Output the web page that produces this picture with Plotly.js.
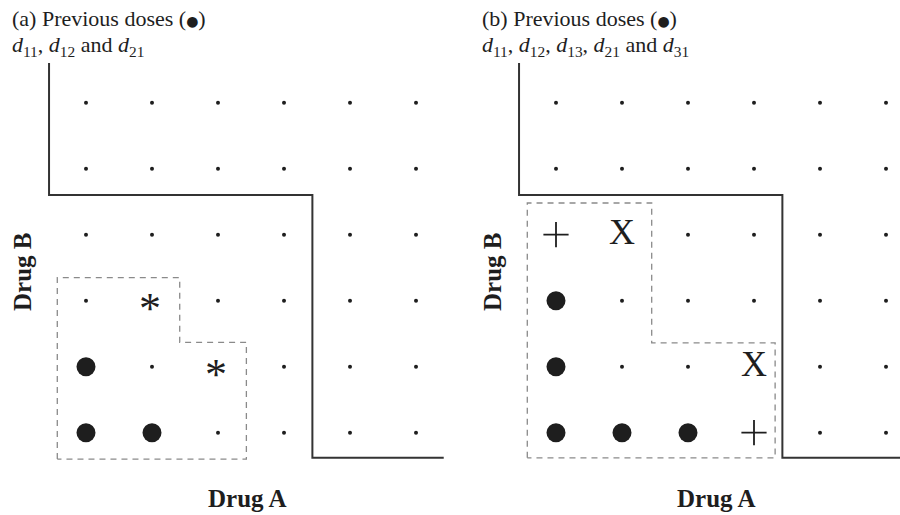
<!DOCTYPE html>
<html>
<head>
<meta charset="utf-8">
<script src="https://cdn.plot.ly/plotly-3.0.1.min.js"></script>
<style>html,body{margin:0;padding:0;background:#fff;}#chart{width:900px;height:515px;}</style>
</head>
<body>
<div id="chart"></div>
<script>
// ---- data ----
const doseLevelsA = [1, 2, 3, 4, 5, 6];   // Drug A dose levels (x)
const doseLevelsB = [1, 2, 3, 4, 5, 6];   // Drug B dose levels (y)

// Panel (a)
const prevA_x = [1, 2, 1];
const prevA_y = [1, 1, 2];
const starA_x = [2, 3];
const starA_y = [3, 2];
const solidA_x = [0.44, 0.44, 4.43, 4.43, 6.42];
const solidA_y = [6.6, 4.6, 4.6, 0.62, 0.62];
const dashA_x = [0.565, 0.565, 2.42, 2.42, 3.43, 3.43, 0.565];
const dashA_y = [0.6, 3.35, 3.35, 2.37, 2.37, 0.6, 0.6];

// Panel (b)
const prevB_x = [1, 1, 1, 2, 3];
const prevB_y = [1, 2, 3, 1, 1];
const plusB_x = [1, 4];
const plusB_y = [4, 1];
const xB_x = [2, 4];
const xB_y = [4, 2];
const solidB_x = [0.44, 0.44, 4.43, 4.43, 6.3];
const solidB_y = [6.6, 4.6, 4.6, 0.62, 0.62];
const dashB_x = [0.565, 0.565, 2.45, 2.45, 4.32, 4.32, 0.565];
const dashB_y = [0.62, 4.48, 4.48, 2.36, 2.36, 0.62, 0.62];

const BUL = '<span style="font-family:DejaVu Sans;font-size:14px">\u25CF</span>';
const titleA1 = '(a) Previous doses (' + BUL + ')';
const titleA2 = '<i>d</i><sub>11</sub>, <i>d</i><sub>12</sub> and <i>d</i><sub>21</sub>';
const titleB1 = '(b) Previous doses (' + BUL + ')';
const titleB2 = '<i>d</i><sub>11</sub>, <i>d</i><sub>12</sub>, <i>d</i><sub>13</sub>, <i>d</i><sub>21</sub> and <i>d</i><sub>31</sub>';
const xLabel = 'Drug A';
const yLabel = 'Drug B';

// ---- helpers ----
function smallDots(exX, exY) {
  const xs = [], ys = [];
  doseLevelsB.forEach(b => doseLevelsA.forEach(a => {
    let taken = false;
    for (let i = 0; i < exX.length; i++) if (exX[i] === a && exY[i] === b) taken = true;
    if (!taken) { xs.push(a); ys.push(b); }
  }));
  return [xs, ys];
}

const SERIF = '"Liberation Serif", "Times New Roman", serif';
const ink = '#1e1e1e';

function panelTraces(ax, ay, excl, solidX, solidY, dashX, dashY, prevX, prevY) {
  const [sx, sy] = smallDots(excl[0], excl[1]);
  return [
    {x: solidX, y: solidY, xaxis: ax, yaxis: ay, mode: 'lines', line: {color: '#333', width: 2}, hoverinfo: 'skip'},
    {x: dashX, y: dashY, xaxis: ax, yaxis: ay, mode: 'lines', line: {color: '#8a8a8a', width: 1.3, dash: '6px,5px'}, hoverinfo: 'skip'},
    {x: sx, y: sy, xaxis: ax, yaxis: ay, mode: 'markers', marker: {size: 4, color: ink}},
    {x: prevX, y: prevY, xaxis: ax, yaxis: ay, mode: 'markers', marker: {size: 19, color: ink}}
  ];
}

const exclA = [prevA_x.concat(starA_x), prevA_y.concat(starA_y)];
const exclB = [prevB_x.concat(plusB_x, xB_x), prevB_y.concat(plusB_y, xB_y)];

const data = []
  .concat(panelTraces('x', 'y', exclA, solidA_x, solidA_y, dashA_x, dashA_y, prevA_x, prevA_y))
  .concat(panelTraces('x2', 'y2', exclB, solidB_x, solidB_y, dashB_x, dashB_y, prevB_x, prevB_y))
  .concat([
    {x: plusB_x, y: plusB_y, xaxis: 'x2', yaxis: 'y2', mode: 'markers',
     marker: {symbol: 'cross-thin-open', size: 18, line: {width: 1.8, color: ink}, color: ink}},
    {x: xB_x, y: xB_y, xaxis: 'x2', yaxis: 'y2', mode: 'text', text: xB_x.map(() => 'X'),
     textposition: 'middle center', textfont: {family: SERIF, size: 36, color: ink}}
  ]);

function ann(text, px, py, opts) {
  return Object.assign({text: text, x: px / 900, y: 1 - py / 515, xref: 'paper', yref: 'paper',
    showarrow: false, xanchor: 'left', yanchor: 'middle', font: {family: SERIF, size: 22, color: ink}}, opts || {});
}

// asterisk candidates, placed in data coordinates of panel (a)
const starAnns = starA_x.map((xv, i) => ({
  text: '*', x: xv, y: starA_y[i], xref: 'x', yref: 'y', showarrow: false,
  xanchor: 'center', yanchor: 'middle', yshift: -8, xshift: -2,
  font: {family: SERIF, size: 44, color: ink}
}));

const axBase = {visible: false, showgrid: false, zeroline: false, fixedrange: true};
const labelFont = {family: SERIF, size: 25, color: ink};

const layout = {
  width: 900, height: 515,
  margin: {l: 0, r: 0, t: 0, b: 0},
  paper_bgcolor: '#fff', plot_bgcolor: 'rgba(0,0,0,0)',
  showlegend: false,
  xaxis: Object.assign({}, axBase, {domain: [0, 0.5], range: [-0.303, 6.515]}),
  yaxis: Object.assign({}, axBase, {domain: [0, 1], range: [-0.247, 7.556]}),
  xaxis2: Object.assign({}, axBase, {domain: [0.5, 1], range: [-0.606, 6.212]}),
  yaxis2: Object.assign({}, axBase, {domain: [0, 1], range: [-0.247, 7.556], anchor: 'x2'}),
  annotations: [
    ann(titleA1, 10, 18),
    ann(titleA2, 10, 46),
    ann(titleB1, 480, 18),
    ann(titleB2, 480, 46),
    ann('<b>' + xLabel + '</b>', 247, 498, {xanchor: 'center', font: labelFont}),
    ann('<b>' + xLabel + '</b>', 716, 498, {xanchor: 'center', font: labelFont}),
    ann('<b>' + yLabel + '</b>', 22, 272, {xanchor: 'center', textangle: -90, font: labelFont}),
    ann('<b>' + yLabel + '</b>', 492, 272, {xanchor: 'center', textangle: -90, font: labelFont})
  ].concat(starAnns)
};

Plotly.newPlot('chart', data, layout, {displayModeBar: false, staticPlot: true});
</script>
</body>
</html>
